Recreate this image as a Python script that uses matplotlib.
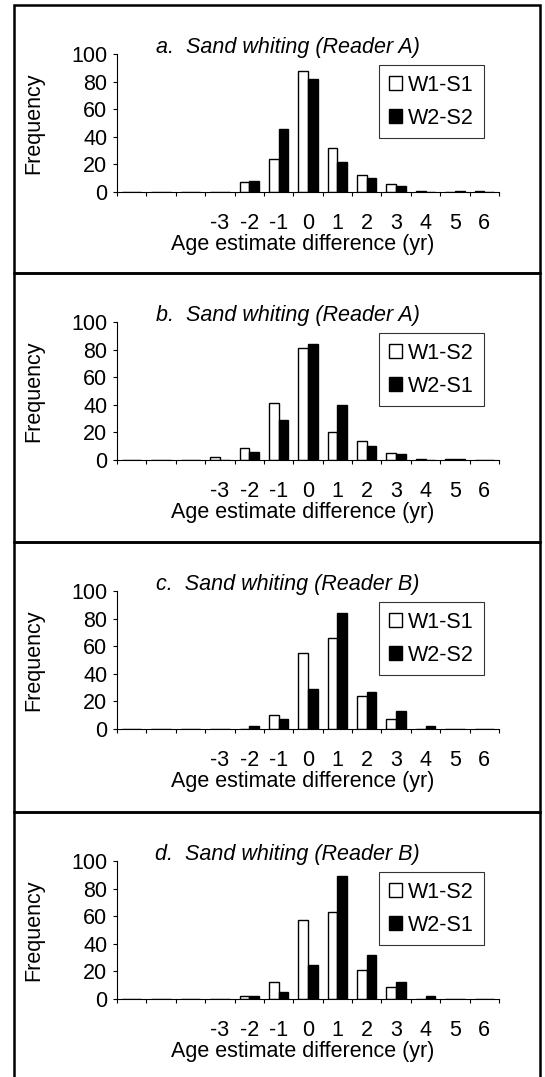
import matplotlib
matplotlib.use("Agg")
import matplotlib.pyplot as plt
from matplotlib.patches import Rectangle, Patch

plt.rcParams["font.family"] = ["Liberation Sans", "DejaVu Sans"]

# age estimate difference categories (-6..6); first three carry no label
cats = [-6, -5, -4, -3, -2, -1, 0, 1, 2, 3, 4, 5, 6]
cat_labels = ["", "", "", "-3", "-2", "-1", "0", "1", "2", "3", "4", "5", "6"]

titles = ["a.  Sand whiting (Reader A)", "b.  Sand whiting (Reader A)",
          "c.  Sand whiting (Reader B)", "d.  Sand whiting (Reader B)"]
white_names = ["W1-S1", "W1-S2", "W1-S1", "W1-S2"]
black_names = ["W2-S2", "W2-S1", "W2-S2", "W2-S1"]

white_a = [0, 0, 0, 0, 7, 24, 88, 32, 12, 6, 1, 0, 1]
black_a = [0, 0, 0, 0, 8, 46, 82, 22, 10, 4, 0, 1, 0]
white_b = [0, 0, 0, 2, 9, 41, 81, 20, 14, 5, 1, 1, 0]
black_b = [0, 0, 0, 0, 6, 29, 84, 40, 10, 4, 0, 1, 0]
white_c = [0, 0, 0, 0, 0, 10, 55, 66, 24, 7, 0, 0, 0]
black_c = [0, 0, 0, 0, 2, 7, 29, 84, 27, 13, 2, 0, 0]
white_d = [0, 0, 0, 0, 2, 12, 57, 63, 21, 9, 0, 0, 0]
black_d = [0, 0, 0, 0, 2, 5, 25, 89, 32, 12, 2, 0, 0]

whites = [white_a, white_b, white_c, white_d]
blacks = [black_a, black_b, black_c, black_d]

W, H = 545, 1077
fig = plt.figure(figsize=(W / 100, H / 100), dpi=100)

box_tops = [5, 273, 542, 812]
ax_left, ax_right = 117, 499
ax_h = 138
fs = 15.5

for i, top in enumerate(box_tops):
    # panel frame
    bottom_px = box_tops[i + 1] if i < 3 else H + 5
    fig.add_artist(Rectangle((14 / W, 1 - bottom_px / H), (540 - 14) / W,
                             (bottom_px - top) / H, transform=fig.transFigure,
                             fill=False, lw=1.8, ec="black"))
    zero_px = top + 187
    ax = fig.add_axes([ax_left / W, 1 - zero_px / H, (ax_right - ax_left) / W, ax_h / H])
    bw = 0.33
    ax.bar([c - bw / 2 for c in cats], whites[i], width=bw, color="white",
           edgecolor="black", lw=1.0, label=white_names[i])
    ax.bar([c + bw / 2 for c in cats], blacks[i], width=bw, color="black",
           edgecolor="black", lw=1.0, label=black_names[i])
    ax.set_xlim(cats[0] - 0.5, cats[-1] + 0.5)
    ax.set_ylim(0, 100)
    ax.spines["top"].set_visible(False)
    ax.spines["right"].set_visible(False)
    ax.spines["left"].set_linewidth(0.8)
    ax.spines["bottom"].set_linewidth(0.8)
    ax.set_yticks([0, 20, 40, 60, 80, 100])
    ax.tick_params(axis="y", direction="out", length=3, width=0.8, pad=4, labelsize=fs)
    ax.set_xticks([c - 0.5 for c in cats] + [cats[-1] + 0.5])
    ax.set_xticklabels([])
    ax.tick_params(axis="x", which="major", direction="out", length=3, width=0.8)
    ax.set_xticks(cats, minor=True)
    ax.set_xticklabels(cat_labels, minor=True)
    ax.tick_params(axis="x", which="minor", length=0, pad=15, labelsize=fs)
    ax.set_ylabel("Frequency", fontsize=fs)
    ax.yaxis.set_label_coords(-0.19, 0.5)
    ax.set_xlabel("Age estimate difference (yr)", fontsize=fs)
    ax.xaxis.set_label_coords(0.485, -0.305)
    ax.text(0.447, 1.05, titles[i], transform=ax.transAxes, ha="center", va="center",
            fontsize=fs, style="italic")
    handles = [Patch(facecolor="white", edgecolor="black", lw=1.0, label=white_names[i]),
               Patch(facecolor="black", edgecolor="black", lw=1.0, label=black_names[i])]
    leg = ax.legend(handles=handles, loc="upper left", bbox_to_anchor=(0.686, 0.92),
                    fontsize=fs, frameon=True, fancybox=False, edgecolor="black",
                    handlelength=0.6, handleheight=0.6, handletextpad=0.3,
                    labelspacing=0.55, borderpad=0.45, borderaxespad=0)
    leg.get_frame().set_linewidth(0.8)

fig.savefig("out.png", dpi=100)
